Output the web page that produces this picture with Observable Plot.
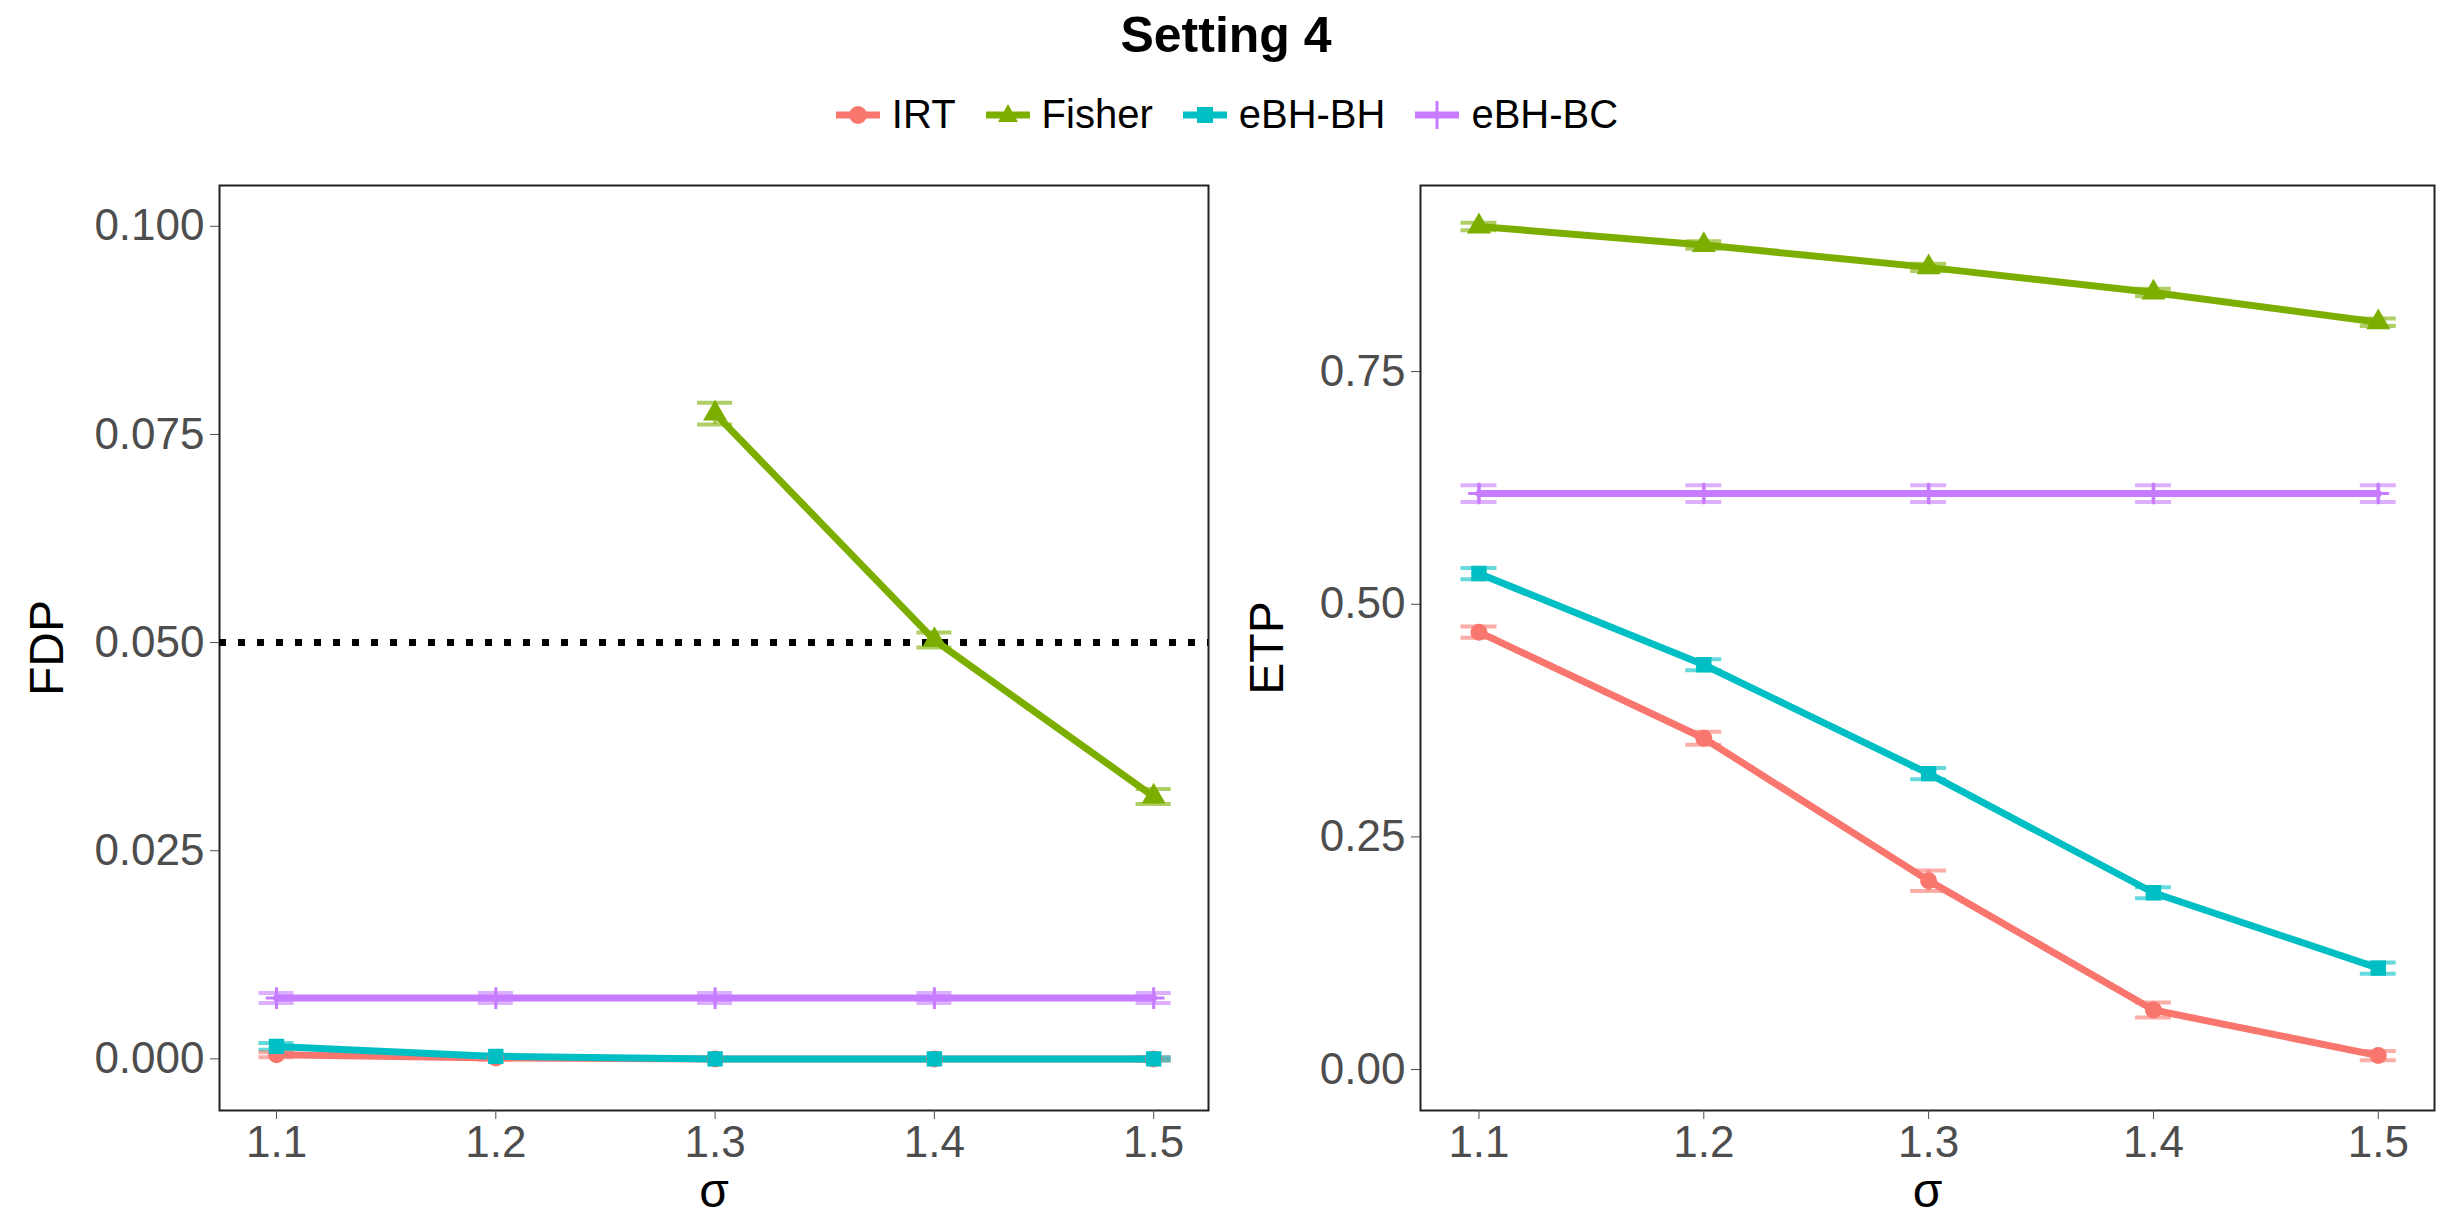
<!DOCTYPE html>
<html><head><meta charset="utf-8">
<script src="https://cdn.jsdelivr.net/npm/d3@7"></script>
<script src="https://cdn.jsdelivr.net/npm/@observablehq/plot@0.6"></script>
<style>
body{margin:0;background:#fff;font-family:"Liberation Sans",Arial,sans-serif;}
#wrap{position:relative;width:2452px;height:1221px;}
#title{position:absolute;top:6px;width:2452px;text-align:center;font-weight:bold;font-size:50px;}
#legend{position:absolute;top:92px;width:2452px;display:flex;justify-content:center;gap:28px;font-size:40px;color:#000;}
#legend span{display:flex;align-items:center;gap:10px;}
.p{position:absolute;top:175px;}
</style></head><body>
<div id="wrap">
<div id="title">Setting 4</div>
<div id="legend"></div>
<div id="left" class="p" style="left:0px"></div>
<div id="right" class="p" style="left:1220px"></div>
</div>
<script>
const sigma = [1.1, 1.2, 1.3, 1.4, 1.5];
const methods = ["IRT", "Fisher", "eBH-BH", "eBH-BC"];
const colors = ["#F8766D", "#7CAE00", "#00BFC4", "#C77CFF"];
const symbols = ["circle", "triangle", "square", "plus"];
const fdpIRT = [0.0005, 0.0001, 0.0, 0.0, 0.0];
const fdpFisher = [null, null, 0.0775, 0.0503, 0.0315];
const fdpBH = [0.0015, 0.0003, 0.0, 0.0, 0.0];
const fdpBC = [0.0073, 0.0073, 0.0073, 0.0073, 0.0073];
const fdpErr = [[0.0003,0.0002,0,0,0.0002],[0,0,0.0013,0.0009,0.0009],[0.0004,0.0002,0.0001,0.0001,0.0002],[0.0006,0.0006,0.0006,0.0006,0.0006]];
const etpIRT = [0.470, 0.356, 0.203, 0.064, 0.015];
const etpFisher = [0.906, 0.886, 0.862, 0.835, 0.803];
const etpBH = [0.533, 0.435, 0.318, 0.190, 0.109];
const etpBC = [0.619, 0.619, 0.619, 0.619, 0.619];
const etpErr = [[0.006,0.007,0.011,0.008,0.005],[0.004,0.004,0.004,0.004,0.004],[0.006,0.006,0.006,0.006,0.006],[0.009,0.009,0.009,0.009,0.009]];
const fdpTicks = [0, 0.025, 0.05, 0.075, 0.1];
const etpTicks = [0, 0.25, 0.5, 0.75];

function rows(series, errs){
  const out=[];
  series.forEach((s,i)=>s.forEach((v,j)=>{ if(v!==null) out.push({m:methods[i],x:sigma[j],y:v,e:errs[i][j]}); }));
  return out;
}
const lg=document.getElementById("legend");
methods.forEach((m,i)=>{
  const svg = `<svg width="48" height="34"><line x1="2" x2="46" y1="17" y2="17" stroke="${colors[i]}" stroke-width="7"/>`+
   (symbols[i]==="circle"?`<circle cx="24" cy="17" r="9" fill="${colors[i]}"/>`:
    symbols[i]==="triangle"?`<path d="M24,6 L34,24 L14,24Z" fill="${colors[i]}"/>`:
    symbols[i]==="square"?`<rect x="16" y="9" width="16" height="16" fill="${colors[i]}"/>`:
    `<path d="M24,3V31M10,17H38" stroke="${colors[i]}" stroke-width="3"/>`)+`</svg>`;
  const s=document.createElement("span"); s.innerHTML=svg+m; lg.appendChild(s);
});

function panel(data, ydom, yticks, fmt, label, ml, width, hline){
  const marks=[
    Plot.frame({stroke:"#222", strokeWidth:2}),
    Plot.axisX({ticks:sigma, tickFormat:d3.format(".1f"), tickSize:9, tickPadding:6, fontSize:44, color:"#4d4d4d", label:null}),
    Plot.axisX({ticks:[], label:"σ", labelAnchor:"center", labelArrow:"none", labelOffset:96, fontSize:48, color:"#000"}),
    Plot.axisY({ticks:yticks, tickFormat:fmt, tickSize:9, tickPadding:6, fontSize:44, color:"#4d4d4d", label:null}),
    Plot.axisY({ticks:[], label:label, labelAnchor:"center", labelArrow:"none", labelOffset:ml-28, fontSize:48, color:"#000"}),
  ];
  if(hline!==undefined) marks.push(Plot.ruleY([hline],{stroke:"#000",strokeWidth:7,strokeDasharray:"7,12"}));
  marks.push(
    Plot.ruleX(data,{x:"x",y1:d=>d.y-d.e,y2:d=>d.y+d.e,stroke:"m",strokeWidth:4,strokeOpacity:0.6}),
    Plot.ruleY(data,{y:d=>d.y-d.e,x1:d=>d.x-0.008,x2:d=>d.x+0.008,stroke:"m",strokeWidth:4,strokeOpacity:0.6}),
    Plot.ruleY(data,{y:d=>d.y+d.e,x1:d=>d.x-0.008,x2:d=>d.x+0.008,stroke:"m",strokeWidth:4,strokeOpacity:0.6}),
    Plot.line(data,{x:"x",y:"y",stroke:"m",z:"m",strokeWidth:7}),
    Plot.dot(data,{x:"x",y:"y",fill:"m",stroke:"m",symbol:"m",r:7,strokeWidth:3})
  );
  return Plot.plot({
    width, height:10+925+111, marginTop:10, marginBottom:111, marginLeft:ml, marginRight:18,
    style:{fontFamily:"Liberation Sans, Arial, sans-serif", color:"#000"},
    x:{domain:[1.074,1.525]},
    y:{domain:ydom},
    color:{domain:methods, range:colors},
    symbol:{domain:methods, range:symbols},
    marks
  });
}
document.getElementById("left").appendChild(panel(rows([fdpIRT,fdpFisher,fdpBH,fdpBC],fdpErr),[-0.0062,0.1049],fdpTicks,d3.format(".3f"),"FDP",219,1226,0.05));
document.getElementById("right").appendChild(panel(rows([etpIRT,etpFisher,etpBH,etpBC],etpErr),[-0.044,0.95],etpTicks,d3.format(".2f"),"ETP",200,1232));
</script>
</body></html>
